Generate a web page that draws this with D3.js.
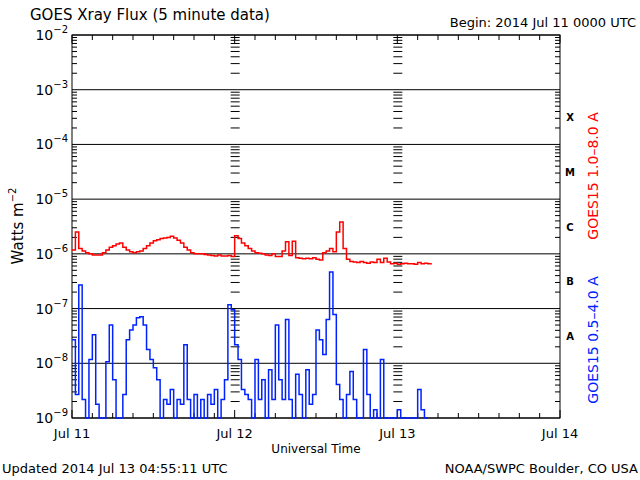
<!DOCTYPE html>
<html><head><meta charset="utf-8">
<script src="https://cdn.jsdelivr.net/npm/d3@7"></script>
<style>body{margin:0;background:#fff}svg{display:block}text{font-family:"DejaVu Sans",sans-serif}</style>
</head><body><svg id="c" width="640" height="480"></svg>
<script>
const dayLabels = ["Jul 11","Jul 12","Jul 13","Jul 14"];
const yExps = [-2,-3,-4,-5,-6,-7,-8,-9];
const classLetters = [["X",-3.5],["M",-4.5],["C",-5.5],["B",-6.5],["A",-7.5]];
// log10 flux, 30-minute samples starting 2014 Jul 11 00:00 UTC
const longLog = [-5.93,-5.6,-5.9,-5.95,-5.98,-6.0,-6.02,-6.02,-6.02,-5.98,-5.93,-5.88,-5.85,-5.82,-5.80,-5.88,-5.93,-5.96,-5.98,-5.96,-5.95,-5.9,-5.85,-5.8,-5.76,-5.74,-5.72,-5.71,-5.70,-5.68,-5.71,-5.75,-5.80,-5.88,-5.93,-5.98,-6.0,-6.0,-6.0,-6.01,-6.02,-6.03,-6.04,-6.02,-6.04,-6.04,-6.03,-6.05,-5.67,-5.72,-5.8,-5.85,-5.9,-5.95,-5.98,-5.99,-6.0,-6.02,-6.03,-6.0,-6.05,-6.05,-5.95,-5.78,-6.03,-5.77,-6.07,-6.08,-6.09,-6.08,-6.09,-6.07,-6.1,-6.11,-5.98,-5.95,-5.9,-5.96,-5.6,-5.42,-5.9,-6.1,-6.14,-6.15,-6.16,-6.14,-6.16,-6.17,-6.15,-6.16,-6.1,-6.16,-6.08,-6.15,-6.18,-6.17,-6.19,-6.18,-6.17,-6.18,-6.18,-6.19,-6.16,-6.18,-6.17,-6.18,-6.17];
const shortLog = [-7.57,-8.57,-6.57,-8.66,-9,-7.93,-7.48,-8.75,-9,-9,-7.97,-7.30,-8.30,-9,-9,-8.57,-7.57,-7.39,-7.30,-7.17,-7.15,-7.30,-7.75,-7.93,-8.08,-8.30,-9,-8.66,-8.75,-8.48,-9,-8.66,-8.75,-7.66,-8.66,-9,-8.57,-9,-8.66,-9,-8.57,-8.75,-8.48,-9,-8.66,-8.30,-6.93,-7.02,-7.66,-7.93,-8.48,-8.57,-8.66,-9,-7.93,-8.66,-8.30,-9,-8.12,-8.66,-7.30,-8.30,-8.66,-7.20,-8.66,-9,-8.20,-8.57,-9,-8.12,-8.75,-8.57,-7.39,-7.57,-7.84,-7.20,-6.33,-7.11,-8.39,-8.66,-9,-8.57,-8.15,-8.66,-9,-9,-7.75,-8.57,-9,-8.85,-9,-7.93,-9,-9,-9,-9,-8.85,-9,-9,-9,-9,-9,-8.48,-8.85,-9,-9];

const svg = d3.select("#c");
const L=72,R=560,T=35,B=418;
const x = d3.scaleLinear().domain([0,72]).range([L,R]);
const y = d3.scaleLog().domain([1e-9,1e-2]).range([B,T]);

yExps.forEach(e=>{svg.append("line").attr("x1",L).attr("x2",R).attr("y1",y(10**e)).attr("y2",y(10**e)).attr("stroke","#000");});
const minors=[];
for(let e=-9;e<-2;e++) for(let m=2;m<10;m++) minors.push(m*10**e);
[[L,1,0],[R,-1,0],[x(24),1,1],[x(48),1,1]].forEach(([px,dir,both])=>{
  minors.forEach(v=>{
    svg.append("line").attr("x1",both?px-4:px).attr("x2",px+dir*5).attr("y1",y(v)).attr("y2",y(v)).attr("stroke","#000");
  });
});
d3.range(0,73,3).forEach(h=>{
  const len = h%24===0?8:5;
  svg.append("line").attr("x1",x(h)).attr("x2",x(h)).attr("y1",T).attr("y2",T+len).attr("stroke","#000");
  svg.append("line").attr("x1",x(h)).attr("x2",x(h)).attr("y1",B).attr("y2",B-len).attr("stroke","#000");
});
svg.append("rect").attr("x",L).attr("y",T).attr("width",R-L).attr("height",B-T).attr("fill","none").attr("stroke","#000");

yExps.forEach(e=>{
  const t=svg.append("text").attr("x",L-4).attr("y",y(10**e)+5).attr("text-anchor","end").attr("font-size",14);
  t.append("tspan").text("10");
  t.append("tspan").attr("dy",-7).attr("font-size",10).text("\u2212"+(-e));
});
dayLabels.forEach((d,i)=>svg.append("text").attr("x",x(i*24)).attr("y",438).attr("text-anchor","middle").attr("font-size",13).text(d));
svg.append("text").attr("x",316).attr("y",453).attr("text-anchor","middle").attr("font-size",12).text("Universal Time");
classLetters.forEach(([c,e])=>svg.append("text").attr("x",570).attr("y",y(10**e)+4).attr("text-anchor","middle").attr("font-size",10).attr("font-weight","bold").attr("font-family","Liberation Serif").text(c));

svg.append("text").attr("x",30).attr("y",20).attr("font-size",15).text("GOES Xray Flux (5 minute data)");
svg.append("text").attr("x",636).attr("y",27).attr("text-anchor","end").attr("font-size",13).text("Begin:  2014 Jul 11 0000 UTC");
svg.append("text").attr("x",2).attr("y",473).attr("font-size",13).text("Updated 2014 Jul 13 04:55:11 UTC");
svg.append("text").attr("x",638).attr("y",473).attr("text-anchor","end").attr("font-size",13).text("NOAA/SWPC Boulder, CO USA");
const yl=svg.append("text").attr("transform","translate(23,226) rotate(-90)").attr("text-anchor","middle").attr("font-size",15);
yl.append("tspan").text("Watts m");yl.append("tspan").attr("dy",-7).attr("font-size",10).text("\u22122");
svg.append("text").attr("transform","translate(598,176) rotate(-90)").attr("text-anchor","middle").attr("font-size",14).attr("fill","#ff0000").text("GOES15 1.0\u20138.0 A");
svg.append("text").attr("transform","translate(598,340) rotate(-90)").attr("text-anchor","middle").attr("font-size",14).attr("fill","#0022ff").text("GOES15 0.5\u20134.0 A");

const line = d3.line().x((d,i)=>x(i*0.5)).y(d=>y(Math.max(10**d,1e-9))).curve(d3.curveStepAfter);
svg.append("path").attr("d",line(longLog)).attr("fill","none").attr("stroke","#ff0000").attr("stroke-width",1.5);
svg.append("path").attr("d",line(shortLog)).attr("fill","none").attr("stroke","#0022ff").attr("stroke-width",1.5);
</script></body></html>
